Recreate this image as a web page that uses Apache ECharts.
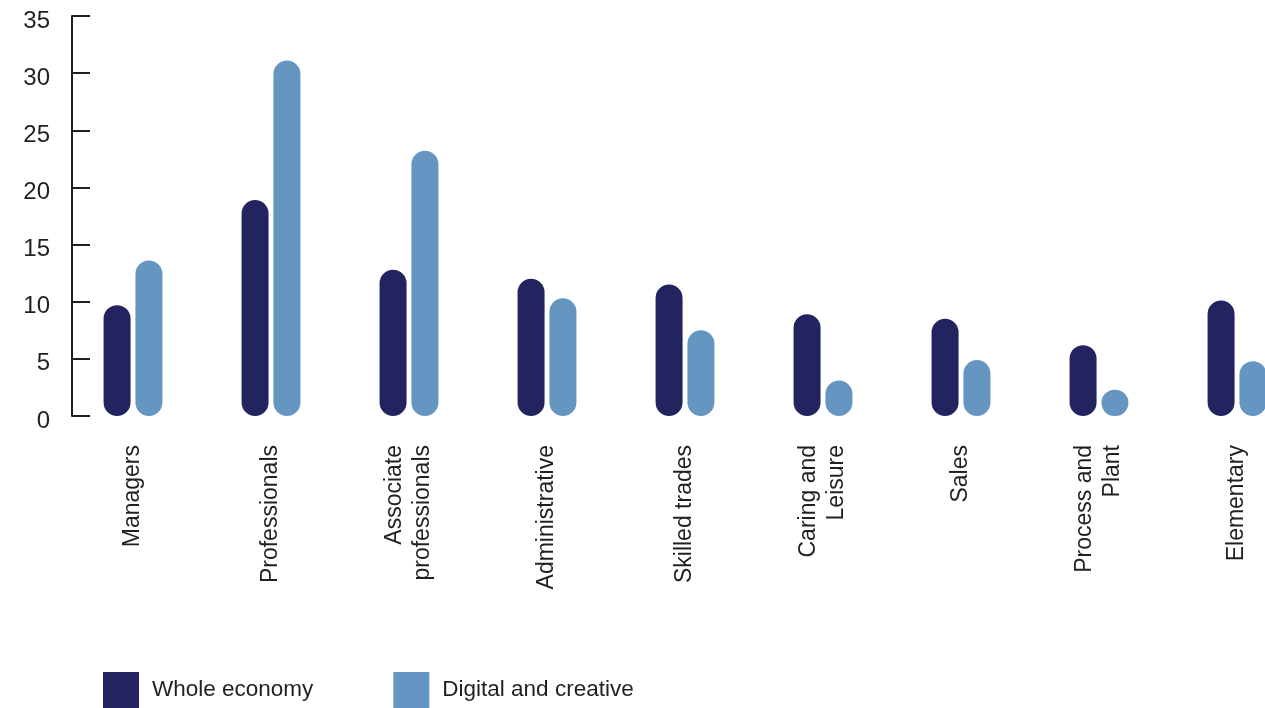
<!DOCTYPE html>
<html>
<head>
<meta charset="utf-8">
<title>Occupational breakdown</title>
<script src="https://cdn.jsdelivr.net/npm/echarts@6/dist/echarts.min.js"></script>
<style>
  html, body { margin: 0; padding: 0; background: #ffffff; overflow: hidden; width: 1265px; height: 708px; }
  /* the last category band runs past the right edge of the page */
  #chart { width: 1310px; height: 708px; }
</style>
</head>
<body>
<div id="chart"></div>
<script>
// Occupation groups (multi-line where the label wraps)
const categories = [
  'Managers',
  'Professionals',
  'Associate\nprofessionals',
  'Administrative',
  'Skilled trades',
  'Caring and\nLeisure',
  'Sales',
  'Process and\nPlant',
  'Elementary'
];

// Share of employment (%) in each occupation group
const wholeEconomy      = [9.7, 18.9, 12.8, 12.0, 11.5, 8.9, 8.5, 6.2, 10.1];
const digitalCreative   = [13.6, 31.1, 23.2, 10.3, 7.5, 3.1, 4.9, 2.3, 4.8];

const seriesNames = ['Whole economy', 'Digital and creative'];
const yTicks = { min: 0, max: 35, interval: 5 };

const ink = '#231f20';
const navy = '#23235f';
const steel = '#6595c1';
const font = 'Liberation Sans';

const chart = echarts.init(document.getElementById('chart'), null, { renderer: 'canvas' });

chart.setOption({
  animation: false,
  backgroundColor: '#ffffff',
  textStyle: { fontFamily: font, color: ink },
  grid: { left: 64, top: 16, right: 4, bottom: 292, containLabel: false },
  legend: {
    left: 98,
    top: 667,
    icon: 'rect',
    itemWidth: 36,
    itemHeight: 36,
    itemGap: 80,
    data: seriesNames,
    textStyle: { fontFamily: font, fontSize: 22.5, color: ink, padding: [0, 0, 0, 8] }
  },
  xAxis: {
    type: 'category',
    data: categories,
    axisLine: { show: false },
    axisTick: { show: false },
    axisLabel: {
      rotate: 90,
      interval: 0,
      margin: 29,
      fontFamily: font,
      fontSize: 23,
      lineHeight: 28,
      color: ink
    }
  },
  yAxis: {
    type: 'value',
    min: yTicks.min,
    max: yTicks.max,
    interval: yTicks.interval,
    offset: -8,
    axisLine: { show: true, lineStyle: { color: ink, width: 2 } },
    axisTick: { show: true, inside: true, length: 18, lineStyle: { color: ink, width: 2 } },
    splitLine: { show: false },
    axisLabel: {
      margin: 22,
      fontFamily: font,
      fontSize: 24,
      color: ink,
      verticalAlign: 'top',
      lineHeight: 10
    }
  },
  series: [
    {
      name: seriesNames[0],
      type: 'bar',
      data: wholeEconomy,
      barWidth: 27,
      barGap: '18%',
      itemStyle: { color: navy, borderRadius: 13.5 }
    },
    {
      name: seriesNames[1],
      type: 'bar',
      data: digitalCreative,
      barWidth: 27,
      barGap: '18%',
      itemStyle: { color: steel, borderRadius: 13.5 }
    }
  ]
});
</script>
</body>
</html>
